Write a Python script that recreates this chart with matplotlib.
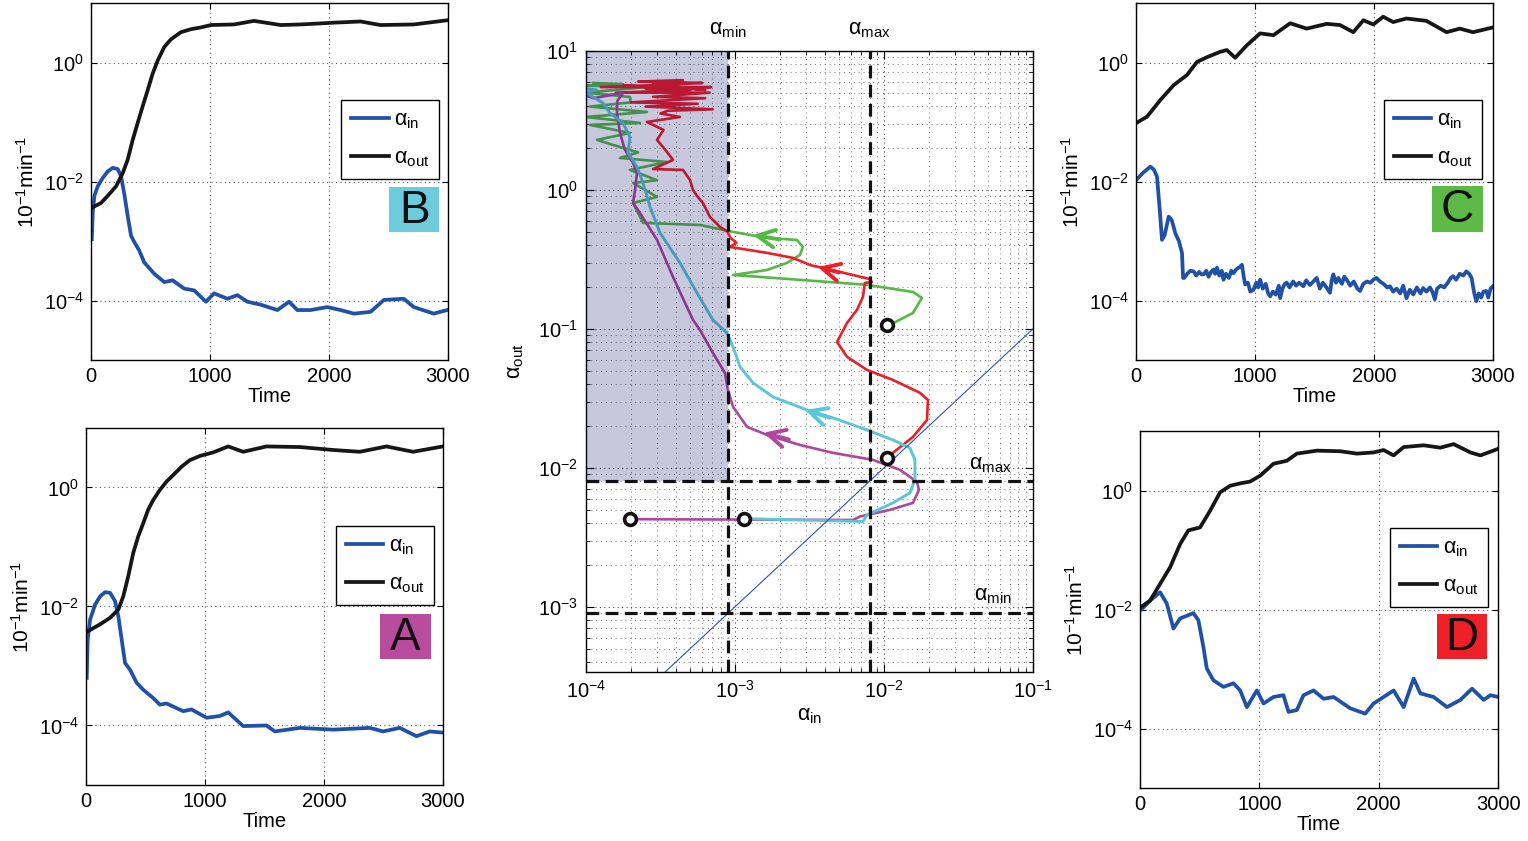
import numpy as np
import matplotlib
matplotlib.use("Agg")
import matplotlib.pyplot as plt
from matplotlib.patches import Rectangle
from matplotlib.ticker import NullLocator, LogLocator
from matplotlib.transforms import blended_transform_factory

plt.rcParams['font.family'] = ['Liberation Sans', 'DejaVu Sans']
plt.rcParams['mathtext.fontset'] = 'custom'
plt.rcParams['mathtext.rm'] = 'Liberation Sans'
plt.rcParams['mathtext.it'] = 'Liberation Sans:italic'
plt.rcParams['mathtext.bf'] = 'Liberation Sans:bold'

# ---- side panels: time series, values as log10 ----
# panel B
b_t_in = [6, 14, 28, 56, 98, 140, 182, 224, 252, 280, 308, 336, 364, 405, 447, 531, 615, 685,
          783, 867, 965, 1034, 1146, 1230, 1314, 1426, 1566, 1664, 1734, 1845, 1985, 2097, 2209,
          2349, 2461, 2628, 2712, 2880, 2992]
b_in = [-2.97, -2.52, -2.24, -2.08, -1.94, -1.83, -1.77, -1.79, -1.91, -2.22, -2.58, -2.91,
        -3.02, -3.16, -3.36, -3.55, -3.69, -3.66, -3.80, -3.83, -4.02, -3.88, -3.97, -3.91,
        -4.02, -4.07, -4.16, -4.02, -4.16, -4.16, -4.11, -4.16, -4.22, -4.19, -3.99, -3.97,
        -4.11, -4.22, -4.16]
b_t_out = [6, 84, 140, 210, 266, 308, 350, 391, 433, 475, 517, 559, 615, 671, 755, 839, 923,
           1007, 1202, 1370, 1594, 1761, 2041, 2265, 2433, 2712, 2992]
b_out = [-2.44, -2.36, -2.24, -2.08, -1.86, -1.63, -1.30, -1.02, -0.74, -0.47, -0.19, 0.03,
         0.26, 0.39, 0.51, 0.56, 0.59, 0.63, 0.64, 0.70, 0.63, 0.64, 0.67, 0.69, 0.63, 0.64, 0.71]

# panel A
a_t_in = [6, 14, 34, 76, 118, 160, 202, 244, 272, 300, 328, 369, 425, 481, 565, 621, 677, 817,
          887, 1013, 1125, 1195, 1321, 1517, 1587, 1797, 2077, 2385, 2497, 2637, 2777, 2889,
          2999]
a_in = [-3.20, -2.56, -2.22, -1.97, -1.83, -1.76, -1.77, -1.91, -2.17, -2.56, -2.95, -3.06,
        -3.28, -3.40, -3.54, -3.65, -3.63, -3.76, -3.73, -3.87, -3.84, -3.78, -4.01, -4.00,
        -4.10, -4.04, -4.07, -4.04, -4.10, -4.04, -4.18, -4.10, -4.12]
a_t_out = [11, 118, 202, 272, 313, 355, 397, 439, 481, 523, 565, 621, 677, 733, 803, 873, 957,
           1069, 1195, 1321, 1517, 1797, 2077, 2301, 2525, 2749, 2999]
a_out = [-2.42, -2.30, -2.19, -2.05, -1.83, -1.49, -1.10, -0.82, -0.60, -0.37, -0.21, -0.04,
         0.10, 0.21, 0.35, 0.46, 0.53, 0.59, 0.69, 0.60, 0.69, 0.68, 0.63, 0.60, 0.69, 0.60, 0.69]

# panel C
c_t_in = [3, 60, 120, 150, 176, 200, 218, 240, 274, 300, 330, 360, 386, 395, 405, 430, 455, 484,
          505, 530, 550, 568, 590, 610, 630, 650, 665, 680, 700, 720, 735, 755, 780, 800, 819,
          840, 860, 875, 890, 905, 917, 940, 960, 987, 1010, 1025, 1043, 1065, 1090, 1110, 1127,
          1150, 1175, 1200, 1211, 1230, 1250, 1267, 1290, 1320, 1345, 1370, 1406, 1430, 1460,
          1490, 1518, 1545, 1570, 1600, 1630, 1645, 1658, 1680, 1700, 1730, 1750, 1770, 1800,
          1830, 1860, 1882, 1910, 1940, 1970, 1994, 2020, 2050, 2080, 2110, 2134, 2160, 2190,
          2220, 2245, 2273, 2300, 2330, 2360, 2390, 2413, 2440, 2470, 2490, 2511, 2530, 2560,
          2590, 2620, 2645, 2665, 2690, 2720, 2750, 2776, 2800, 2820, 2832, 2845, 2860, 2880,
          2900, 2920, 2944, 2960, 2980, 3000]
c_in = [-1.97, -1.85, -1.75, -1.80, -1.92, -2.50, -2.98, -2.90, -2.59, -2.65, -2.87, -3.00,
        -3.20, -3.62, -3.62, -3.55, -3.50, -3.51, -3.58, -3.52, -3.56, -3.56, -3.50, -3.60,
        -3.52, -3.48, -3.55, -3.45, -3.58, -3.50, -3.65, -3.55, -3.62, -3.50, -3.54, -3.48,
        -3.45, -3.43, -3.40, -3.60, -3.73, -3.70, -3.85, -3.82, -3.70, -3.78, -3.65, -3.80,
        -3.72, -3.88, -3.93, -3.85, -3.90, -3.75, -3.96, -3.80, -3.72, -3.70, -3.78, -3.68,
        -3.75, -3.70, -3.76, -3.66, -3.74, -3.68, -3.62, -3.80, -3.70, -3.78, -3.87, -3.65,
        -3.56, -3.70, -3.62, -3.72, -3.60, -3.65, -3.75, -3.68, -3.80, -3.84, -3.72, -3.68,
        -3.70, -3.65, -3.62, -3.68, -3.72, -3.78, -3.76, -3.85, -3.80, -3.88, -3.75, -3.96,
        -3.82, -3.90, -3.78, -3.88, -3.79, -3.85, -3.78, -3.85, -3.98, -3.80, -3.75, -3.78,
        -3.70, -3.62, -3.59, -3.65, -3.55, -3.58, -3.51, -3.55, -3.62, -3.76, -3.90, -4.01,
        -3.88, -3.95, -3.85, -3.84, -3.95, -3.80, -3.76]
c_t_out = [8, 92, 204, 316, 428, 512, 596, 707, 763, 833, 931, 1043, 1155, 1295, 1434, 1602,
           1714, 1826, 1910, 1994, 2077, 2161, 2273, 2441, 2609, 2721, 2832, 3000]
c_out = [-1.01, -0.91, -0.63, -0.38, -0.21, 0.01, 0.09, 0.18, 0.21, 0.08, 0.29, 0.49, 0.46, 0.66,
         0.57, 0.65, 0.63, 0.51, 0.71, 0.64, 0.77, 0.68, 0.74, 0.70, 0.51, 0.57, 0.51, 0.59]

# panel D
d_t_in = [6, 84, 168, 224, 280, 336, 447, 489, 531, 559, 615, 699, 783, 839, 895, 979, 1035,
          1118, 1202, 1244, 1314, 1370, 1454, 1538, 1622, 1761, 1887, 1957, 2041, 2125, 2209,
          2293, 2349, 2460, 2572, 2684, 2782, 2880, 2936, 3000]
d_in = [-2.01, -1.85, -1.71, -1.90, -2.32, -2.15, -2.06, -2.18, -2.63, -2.99, -3.19, -3.30, -3.24,
        -3.36, -3.64, -3.36, -3.58, -3.47, -3.44, -3.72, -3.69, -3.44, -3.36, -3.50, -3.47,
        -3.66, -3.75, -3.58, -3.47, -3.36, -3.64, -3.16, -3.41, -3.47, -3.64, -3.52, -3.33,
        -3.52, -3.44, -3.47]
d_t_out = [6, 84, 168, 252, 336, 405, 503, 587, 671, 755, 839, 922, 1007, 1118, 1230, 1314,
           1482, 1678, 1817, 1957, 2041, 2125, 2209, 2377, 2516, 2628, 2768, 2852, 3000]
d_out = [-1.96, -1.85, -1.57, -1.29, -0.90, -0.67, -0.62, -0.34, -0.03, 0.08, 0.12, 0.15, 0.25,
         0.45, 0.50, 0.62, 0.67, 0.66, 0.62, 0.64, 0.68, 0.59, 0.73, 0.76, 0.72, 0.78, 0.64, 0.59,
         0.70]

# ---- centre panel: trajectories (log10 alpha_in, log10 alpha_out) ----
trajA_in = [-3.705, -2.208, -2.161, -1.960, -1.805, -1.765, -1.779, -1.893, -2.074, -2.342,
            -2.564, -2.785, -2.919, -3.013, -3.047, -3.067, -3.148, -3.235, -3.282, -3.416,
            -3.523, -3.638, -3.684, -3.671, -3.658, -3.684, -3.738, -3.772, -3.792, -3.79,
            -3.75, -3.85, -3.95, -4.0]
trajA_out = [-2.369, -2.375, -2.350, -2.302, -2.252, -2.158, -2.100, -2.014, -1.942, -1.892,
             -1.835, -1.763, -1.705, -1.561, -1.439, -1.317, -1.173, -1.007, -0.935, -0.626,
             -0.360, -0.165, -0.094, 0.0, 0.122, 0.194, 0.288, 0.410, 0.554, 0.64, 0.70, 0.68,
             0.66, 0.68]

trajB_in = [-2.94, -2.141, -2.114, -1.940, -1.826, -1.792, -1.792, -1.826, -1.940, -2.114,
            -2.342, -2.517, -2.745, -2.879, -2.966, -3.013, -3.054, -3.148, -3.255, -3.369,
            -3.503, -3.570, -3.617, -3.658, -3.718, -3.705, -3.752, -3.839, -3.886, -3.953,
            -4.0, -3.93, -4.0]
trajB_out = [-2.365, -2.386, -2.338, -2.252, -2.180, -2.086, -1.942, -1.856, -1.799, -1.727,
             -1.640, -1.583, -1.489, -1.388, -1.273, -1.129, -1.029, -0.935, -0.741, -0.525,
             -0.309, -0.122, 0.05, 0.165, 0.266, 0.381, 0.482, 0.554, 0.626, 0.669, 0.70, 0.72,
             0.73]

trajC_in = [-1.94, -1.805, -1.745, -1.805, -2.114, -2.564, -3.013, -2.785, -2.651, -2.564,
            -2.544, -2.584, -2.785, -3.013, -3.235, -3.617, -3.684, -3.523, -3.684, -3.523,
            -3.705, -3.456, -3.772, -3.650, -3.819, -3.926, -3.705, -3.973, -3.638, -4.0,
            -3.591, -3.973, -3.70, -3.705, -4.0, -3.591, -4.0, -3.75, -3.95]
trajC_out = [-0.96, -0.885, -0.777, -0.734, -0.683, -0.647, -0.612, -0.576, -0.525, -0.468,
             -0.410, -0.360, -0.345, -0.302, -0.252, -0.237, -0.094, -0.05, 0.05, 0.07, 0.144,
             0.201, 0.23, 0.27, 0.324, 0.36, 0.41, 0.468, 0.482, 0.525, 0.561, 0.60, 0.63,
             0.669, 0.70, 0.741, 0.75, 0.76, 0.77]

trajD_in = [-1.940, -1.805, -1.711, -1.705, -1.758, -1.940, -2.114, -2.248, -2.315, -2.248,
            -2.181, -2.141, -2.128, -2.081, -2.10, -2.295, -2.497, -2.611, -2.785, -3.034,
            -2.99, -3.03, -3.05, -3.101, -3.168, -3.215, -3.25, -3.282, -3.302, -3.349, -3.55,
            -3.416, -3.456, -3.523, -3.48, -3.591, -3.369, -3.50, -3.45, -3.15, -3.60, -3.25,
            -3.70, -3.20, -3.55, -3.17, -3.80, -3.30, -3.60, -3.16, -3.90, -3.40, -3.22, -3.65,
            -3.35, -3.55, -3.20, -3.50, -3.75, -3.30]
trajD_out = [-1.892, -1.777, -1.655, -1.511, -1.460, -1.367, -1.295, -1.201, -1.094, -0.957,
             -0.863, -0.770, -0.669, -0.662, -0.640, -0.590, -0.540, -0.489, -0.453, -0.410,
             -0.380, -0.345, -0.300, -0.266, -0.194, -0.094, -0.05, 0.0, 0.072, 0.144, 0.15,
             0.216, 0.273, 0.360, 0.432, 0.489, 0.525, 0.55, 0.57, 0.58, 0.60, 0.62, 0.63, 0.66,
             0.67, 0.70, 0.70, 0.72, 0.73, 0.74, 0.74, 0.76, 0.77, 0.78, 0.79, 0.76, 0.72, 0.74,
             0.75, 0.73]

start_in = [-3.705, -2.94, -1.980, -1.980]
start_out = [-2.369, -2.365, -0.971, -1.928]

alpha_min = 9e-4
alpha_max = 8e-3

BLUE = '#2151a6'
BLACK = '#161616'
COL_A = '#b0479e'
COL_B = '#5cc6d8'
COL_C = '#56b847'
COL_D = '#ec1f27'


def pw(v):
    return np.power(10.0, np.asarray(v, dtype=float))


fig = plt.figure(figsize=(15.28, 8.41), dpi=100)
FS = 14.5


def side_panel(rect, t_in, v_in, t_out, v_out, letter, col, leg_x, leg_y, box):
    ax = fig.add_axes(rect)
    ax.semilogy(t_in, pw(v_in), color=BLUE, lw=2.7, label=r'$\mathrm{α}_{\mathrm{in}}$')
    ax.semilogy(t_out, pw(v_out), color=BLACK, lw=2.7, label=r'$\mathrm{α}_{\mathrm{out}}$')
    ax.set_xlim(0, 3000)
    ax.set_ylim(1e-5, 10)
    ax.set_xticks([0, 1000, 2000, 3000])
    ax.set_yticks([1e-4, 1e-2, 1e0])
    ax.yaxis.set_minor_locator(NullLocator())
    ax.grid(True, ls=(0, (1, 3)), color='0.35', lw=0.8)
    ax.tick_params(direction='in', top=True, right=True, labelsize=FS, length=4, pad=5)
    ax.set_xlabel('Time', fontsize=FS, labelpad=1)
    ax.set_ylabel(r'$10^{-1}\mathrm{min}^{-1}$', fontsize=15, labelpad=4)
    for s in ax.spines.values():
        s.set_linewidth(1.0)
    leg = ax.legend(loc='upper right', bbox_to_anchor=(leg_x, leg_y), fontsize=15.5,
                    handlelength=1.75, handletextpad=0.25, labelspacing=0.75, borderpad=0.45,
                    fancybox=False, framealpha=1, edgecolor='black', borderaxespad=0)
    leg.get_frame().set_linewidth(1.0)
    x0, y0, w, h = box
    ax.add_patch(Rectangle((x0, y0), w, h, transform=ax.transAxes, facecolor=col,
                           edgecolor='none', zorder=5))
    ax.text(x0 + w / 2, y0 + h / 2 - 0.004, letter, transform=ax.transAxes, ha='center',
            va='center', fontsize=33, color='#111111', zorder=6)
    return ax


side_panel([0.0596, 0.5719, 0.2336, 0.4245], b_t_in, b_in, b_t_out, b_out, 'B', '#6ccbdc',
           0.975, 0.728, (0.835, 0.359, 0.140, 0.126))
side_panel([0.0563, 0.0666, 0.2336, 0.4245], a_t_in, a_in, a_t_out, a_out, 'A', '#b94c9c',
           0.975, 0.725, (0.824, 0.353, 0.142, 0.126))
side_panel([0.7435, 0.5719, 0.2336, 0.4245], c_t_in, c_in, c_t_out, c_out, 'C', '#5dba47',
           0.969, 0.728, (0.829, 0.359, 0.143, 0.129))
side_panel([0.7461, 0.0630, 0.2343, 0.4245], d_t_in, d_in, d_t_out, d_out, 'D', '#ee2028',
           0.972, 0.728, (0.830, 0.361, 0.139, 0.126))

# ---- centre phase plane ----
ax = fig.add_axes([0.3835, 0.2010, 0.2925, 0.7384])
ax.set_xscale('log')
ax.set_yscale('log')
ax.set_xlim(1e-4, 1e-1)
ax.set_ylim(3.4e-4, 10)

ax.plot(pw(trajC_in), pw(trajC_out), color=COL_C, lw=1.9, zorder=2)
ax.plot(pw(trajD_in), pw(trajD_out), color=COL_D, lw=1.9, zorder=2)
ax.plot(pw(trajA_in), pw(trajA_out), color=COL_A, lw=1.9, zorder=2)
ax.plot(pw(trajB_in), pw(trajB_out), color=COL_B, lw=2.1, zorder=2)

# direction arrows (heads only, along each curve)
arrows = [((1.32e-3, 0.474), (2.0e-3, 0.44), COL_C),
          ((3.6e-3, 0.279), (5.0e-3, 0.255), COL_D),
          ((2.95e-3, 2.61e-2), (4.3e-3, 2.3e-2), COL_B),
          ((1.55e-3, 1.79e-2), (2.3e-3, 1.6e-2), COL_A)]
for tip, tail, col in arrows:
    ax.annotate('', xy=tip, xytext=tail,
                arrowprops=dict(arrowstyle='->,head_length=0.9,head_width=0.45', color=col,
                                lw=2.8, shrinkA=0, shrinkB=0, mutation_scale=14),
                zorder=2)

# y = x reference line
diag = np.array([1e-4, 1e-1])
ax.plot(diag, diag, color='#2f52b4', lw=0.8, zorder=2)

# shaded region (drawn over the traces, translucent)
ax.fill_between([1e-4, alpha_min], alpha_max, 10, color=(0.02, 0.02, 0.38), alpha=0.22,
                lw=0, zorder=3)

dash = dict(color='#111111', lw=2.3, ls=(0, (4, 2)), zorder=4)
ax.axvline(alpha_min, **dash)
ax.axvline(alpha_max, **dash)
ax.axhline(alpha_min, **dash)
ax.axhline(alpha_max, **dash)

ax.plot(pw(start_in), pw(start_out), ls='none', marker='o', ms=8.5, mfc='white',
        mec='#111111', mew=2.6, zorder=6)

ax.xaxis.set_minor_locator(LogLocator(base=10, subs=np.arange(2, 10)))
ax.yaxis.set_minor_locator(LogLocator(base=10, subs=np.arange(2, 10)))
ax.grid(True, which='major', ls=(0, (1, 3)), color='0.3', lw=0.8)
ax.grid(True, which='minor', ls=(0, (1, 4)), color='0.45', lw=0.7)
ax.tick_params(which='both', direction='in', top=True, right=True)
ax.tick_params(which='major', labelsize=FS, length=6, pad=6)
ax.tick_params(which='minor', length=3)
ax.set_xlabel(r'$\mathrm{α}_{\mathrm{in}}$', fontsize=15.5, labelpad=2)
ax.set_ylabel(r'$\mathrm{α}_{\mathrm{out}}$', fontsize=15.5, labelpad=8)
for s in ax.spines.values():
    s.set_linewidth(1.0)

tx = blended_transform_factory(ax.transData, ax.transAxes)
ax.text(alpha_min, 1.034, r'$\mathrm{α}_{\mathrm{min}}$', transform=tx, ha='center',
        va='center', fontsize=15.5)
ax.text(alpha_max, 1.034, r'$\mathrm{α}_{\mathrm{max}}$', transform=tx, ha='center',
        va='center', fontsize=15.5)
ty = blended_transform_factory(ax.transAxes, ax.transData)
ax.text(0.906, alpha_max * 1.12, r'$\mathrm{α}_{\mathrm{max}}$', transform=ty, ha='center',
        va='bottom', fontsize=15.5)
ax.text(0.91, alpha_min * 1.12, r'$\mathrm{α}_{\mathrm{min}}$', transform=ty, ha='center',
        va='bottom', fontsize=15.5)

fig.savefig('out.png', dpi=100)
